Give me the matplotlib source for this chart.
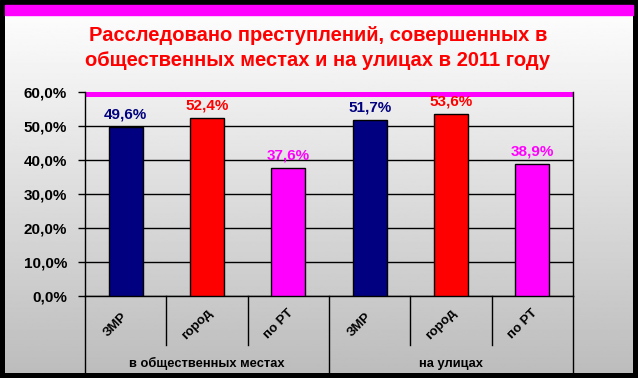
import matplotlib
matplotlib.use("Agg")
import matplotlib.pyplot as plt
import numpy as np
from matplotlib.ticker import FuncFormatter, MultipleLocator
from matplotlib.transforms import blended_transform_factory

plt.rcParams["font.family"] = ["Liberation Sans", "DejaVu Sans"]

TITLE = "Расследовано преступлений, совершенных в\nобщественных местах и на улицах в 2011 году"
categories = ["ЗМР", "город", "по РТ", "ЗМР", "город", "по РТ"]
groups = ["в общественных местах", "на улицах"]
values = [49.6, 52.4, 37.6, 51.7, 53.6, 38.9]
bar_colors = ["#000080", "#FF0000", "#FF00FF", "#000080", "#FF0000", "#FF00FF"]

W, H = 638, 378
fig = plt.figure(figsize=(W / 100, H / 100), dpi=100)

# background: black frame, magenta strip, white->gray gradient
bg = fig.add_axes([0, 0, 1, 1])
bg.set_xlim(0, W)
bg.set_ylim(H, 0)
bg.axis("off")
bg.add_patch(plt.Rectangle((0, 0), W, H, color="black"))
grad = np.linspace(0.99, 0.74, 256)[:, None]
bg.imshow(grad, cmap="gray", vmin=0, vmax=1, aspect="auto",
          extent=(5, 633, 373, 15), zorder=1)
bg.add_patch(plt.Rectangle((5, 5), 628, 10, color="#FF00FF", zorder=2))
bg.text(318, 48, TITLE, color="#FF0000", fontsize=14.5, fontweight="bold",
        ha="center", va="center", linespacing=1.45, zorder=3)

# main plot area
left, right, top, bottom = 85, 573, 92, 296
ax = fig.add_axes([left / W, (H - bottom) / H, (right - left) / W, (bottom - top) / H])
ax.patch.set_alpha(0)

x = np.arange(len(values))
ax.axhspan(58.4, 60, color="#FF00FF", zorder=1, lw=0)
ax.bar(x, values, width=0.42, color=bar_colors, edgecolor="black", linewidth=1, zorder=3)
for xi, v, c in zip(x, values, bar_colors):
    ax.text(xi, v + 1.6, f"{v:.1f}%".replace(".", ","), color=c, fontsize=11,
            fontweight="bold", ha="center", va="bottom", zorder=4)

ax.set_xlim(-0.5, len(values) - 0.5)
ax.set_ylim(0, 60)
ax.yaxis.set_major_locator(MultipleLocator(10))
ax.yaxis.set_major_formatter(FuncFormatter(lambda v, _: f"{v:.1f}%".replace(".", ",")))
ax.grid(axis="y", color="black", linewidth=1, zorder=0)
ax.set_axisbelow(True)
ax.tick_params(axis="y", length=5, width=1, color="black", pad=8, labelsize=11)
for lab in ax.get_yticklabels():
    lab.set_fontweight("bold")
ax.set_xticks([])
for side in ["left", "right", "bottom"]:
    ax.spines[side].set_color("black")
    ax.spines[side].set_linewidth(1)
ax.spines["top"].set_visible(False)

# category axis: dividers and labels
tr = blended_transform_factory(ax.transData, ax.transAxes)
for b in np.arange(-0.5, len(values), 1.0):
    is_group_edge = (b + 0.5) % 3 == 0
    y_end = -0.373 if is_group_edge else -0.24
    ax.plot([b, b], [0, y_end], color="black", lw=1, transform=tr, clip_on=False)
for xi, cat in zip(x, categories):
    ax.text(xi - 0.12, -0.14, cat, rotation=45, fontsize=9.5, fontweight="bold",
            ha="center", va="center", transform=tr)
for gi, g in enumerate(groups):
    ax.text(gi * 3 + 1, -0.333, g, fontsize=9.3, fontweight="bold",
            ha="center", va="center", transform=tr)

fig.savefig("out.png", dpi=100)
